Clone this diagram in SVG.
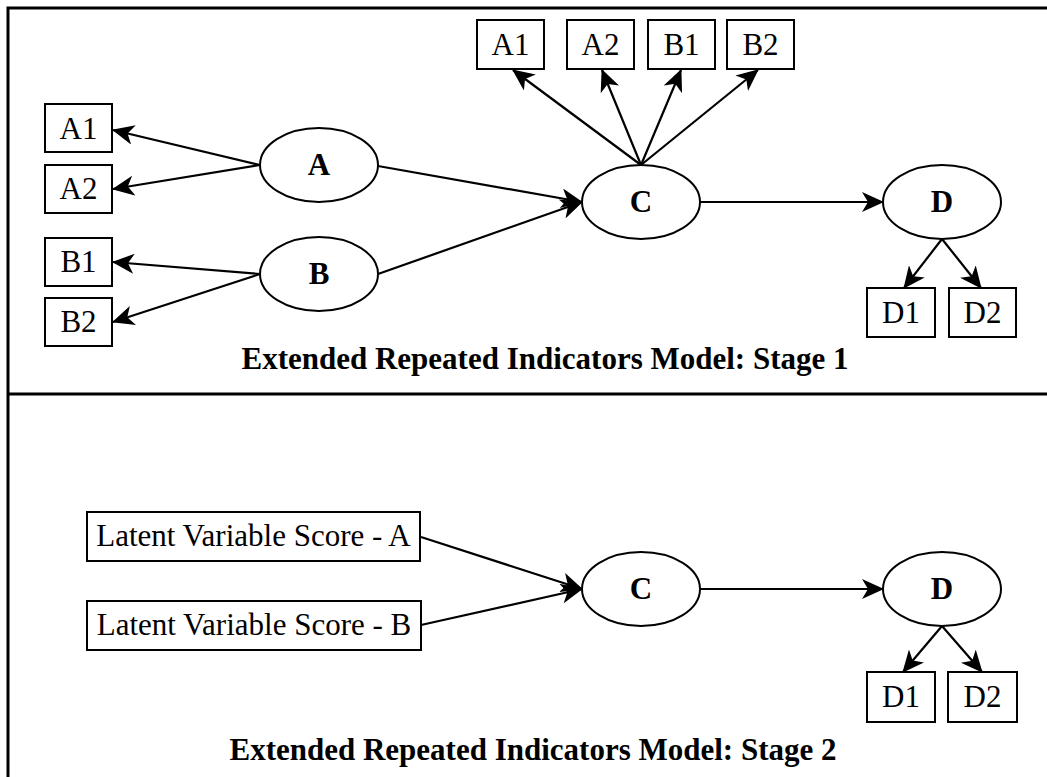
<svg xmlns="http://www.w3.org/2000/svg" width="1047" height="777" viewBox="0 0 1047 777">
<style>
.frame{stroke:#000;stroke-width:3;fill:none}
.box{fill:#fff;stroke:#000;stroke-width:2}
.ell{fill:#fff;stroke:#000;stroke-width:2}
.lbl{font-family:"Liberation Serif","Times New Roman",serif;font-size:31px;fill:#000;text-anchor:middle}
.bold{font-weight:bold}
.title{font-family:"Liberation Serif","Times New Roman",serif;font-size:31px;font-weight:bold;fill:#000;text-anchor:middle}
.edge{stroke:#000;stroke-width:2.2;fill:none;marker-end:url(#arr)}
</style>
<defs>
<marker id="arr" markerUnits="userSpaceOnUse" viewBox="0 0 22 20" markerWidth="22" markerHeight="20" refX="21" refY="10" orient="auto">
<path d="M0,0 L22,10 L0,20 L6,10 Z" fill="#000"/>
</marker>
</defs>
<rect width="1047" height="777" fill="#fff"/>
<g id="frame">
<path class="frame" d="M8,777 V8 H1047 M8,394 H1047"/>
</g>
<g id="connectors">
<line class="edge" x1="260" y1="165" x2="113" y2="130"/>
<line class="edge" x1="260" y1="165" x2="113" y2="189"/>
<line class="edge" x1="260" y1="274" x2="113" y2="262"/>
<line class="edge" x1="260" y1="274" x2="113" y2="322"/>
<line class="edge" x1="378" y1="166" x2="582" y2="202"/>
<line class="edge" x1="378" y1="274" x2="582" y2="202"/>
<line class="edge" x1="641" y1="165" x2="513" y2="70"/>
<line class="edge" x1="641" y1="165" x2="602" y2="70"/>
<line class="edge" x1="641" y1="165" x2="681" y2="70"/>
<line class="edge" x1="641" y1="165" x2="758" y2="70"/>
<line class="edge" x1="700" y1="202" x2="883" y2="202"/>
<line class="edge" x1="942" y1="239" x2="904" y2="288"/>
<line class="edge" x1="942" y1="239" x2="981" y2="288"/>
<line class="edge" x1="421" y1="537" x2="582" y2="589"/>
<line class="edge" x1="421" y1="625" x2="582" y2="589"/>
<line class="edge" x1="700" y1="589" x2="883" y2="589"/>
<line class="edge" x1="942" y1="626" x2="903" y2="672"/>
<line class="edge" x1="942" y1="626" x2="982" y2="672"/>
</g>
<g id="s1-A1"><rect class="box" x="45" y="104" width="67" height="48"/><text class="lbl" x="78.5" y="139">A1</text></g>
<g id="s1-A2"><rect class="box" x="45" y="165" width="67" height="48"/><text class="lbl" x="78.5" y="199">A2</text></g>
<g id="s1-B1"><rect class="box" x="45" y="238" width="67" height="48"/><text class="lbl" x="78.5" y="272">B1</text></g>
<g id="s1-B2"><rect class="box" x="45" y="298" width="67" height="48"/><text class="lbl" x="78.5" y="332">B2</text></g>
<g id="s1-A"><ellipse class="ell" cx="319" cy="165" rx="59" ry="37"/><text class="lbl bold" x="319" y="175">A</text></g>
<g id="s1-B"><ellipse class="ell" cx="319" cy="274" rx="59" ry="37"/><text class="lbl bold" x="319" y="284">B</text></g>
<g id="s1-tA1"><rect class="box" x="477" y="20" width="67" height="49"/><text class="lbl" x="510.5" y="55">A1</text></g>
<g id="s1-tA2"><rect class="box" x="567" y="20" width="67" height="49"/><text class="lbl" x="600.5" y="55">A2</text></g>
<g id="s1-tB1"><rect class="box" x="648" y="20" width="67" height="49"/><text class="lbl" x="681.5" y="55">B1</text></g>
<g id="s1-tB2"><rect class="box" x="727" y="20" width="67" height="49"/><text class="lbl" x="760.5" y="55">B2</text></g>
<g id="s1-C"><ellipse class="ell" cx="641" cy="202" rx="59" ry="37"/><text class="lbl bold" x="641" y="212">C</text></g>
<g id="s1-D"><ellipse class="ell" cx="942" cy="202" rx="59" ry="37"/><text class="lbl bold" x="942" y="212">D</text></g>
<g id="s1-D1"><rect class="box" x="867" y="288" width="68" height="49"/><text class="lbl" x="901" y="323">D1</text></g>
<g id="s1-D2"><rect class="box" x="949" y="288" width="67" height="49"/><text class="lbl" x="982.5" y="323">D2</text></g>
<g id="s1-title"><text class="title" x="545" y="369">Extended Repeated Indicators Model: Stage 1</text></g>
<g id="s2-LA"><rect class="box" x="87" y="512" width="333" height="49"/><text class="lbl" x="253.5" y="546">Latent Variable Score - A</text></g>
<g id="s2-LB"><rect class="box" x="87" y="601" width="334" height="49"/><text class="lbl" x="254" y="635">Latent Variable Score - B</text></g>
<g id="s2-C"><ellipse class="ell" cx="641" cy="589" rx="59" ry="37"/><text class="lbl bold" x="641" y="599">C</text></g>
<g id="s2-D"><ellipse class="ell" cx="942" cy="589" rx="59" ry="37"/><text class="lbl bold" x="942" y="599">D</text></g>
<g id="s2-D1"><rect class="box" x="867" y="672" width="68" height="50"/><text class="lbl" x="901" y="707">D1</text></g>
<g id="s2-D2"><rect class="box" x="948" y="672" width="69" height="50"/><text class="lbl" x="982.5" y="707">D2</text></g>
<g id="s2-title"><text class="title" x="533" y="760">Extended Repeated Indicators Model: Stage 2</text></g>
</svg>
